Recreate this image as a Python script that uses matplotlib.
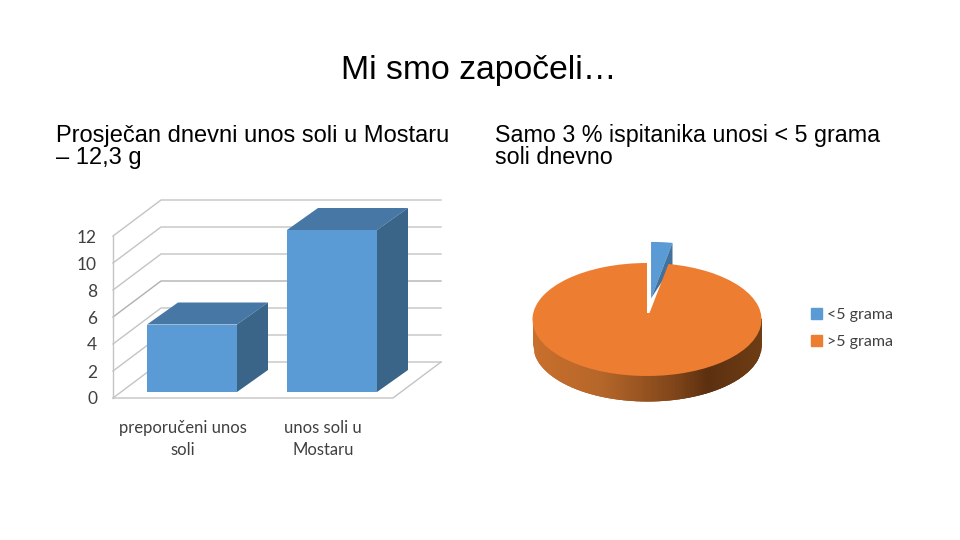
import numpy as np
import matplotlib
matplotlib.use("Agg")
import matplotlib.pyplot as plt
from matplotlib.colors import LinearSegmentedColormap
from matplotlib.patches import Patch

title = "Mi smo započeli…"
left_text = ["Prosječan dnevni unos soli u Mostaru", "– 12,3 g"]
right_text = ["Samo 3 % ispitanika unosi < 5 grama", "soli dnevno"]

bar_categories = ["preporučeni unos\nsoli", "unos soli u\nMostaru"]
bar_values = [5, 12]
y_ticks = [0, 2, 4, 6, 8, 10, 12]

pie_labels = ["<5 grama", ">5 grama"]
pie_values = [3, 97]

W, H = 960, 540
fig = plt.figure(figsize=(W / 100, H / 100), dpi=100, facecolor="white")


def axes_px(x0, y0, x1, y1):
    """Axes from pixel box (y measured from the top of the picture)."""
    return fig.add_axes([x0 / W, 1 - y1 / H, (x1 - x0) / W, (y1 - y0) / H])


# ---------- text ----------
SANS = "Liberation Sans"
fig.text(479 / W, 1 - 79 / H, title, family=SANS, fontsize=24.3, color="black",
         ha="center", va="baseline")
for txt, x, size in ((left_text, 56, 17.0), (right_text, 495, 16.75)):
    for line, y in zip(txt, (142, 164)):
        fig.text(x / W, 1 - y / H, line, family=SANS, fontsize=size, color="black",
                 ha="left", va="baseline")

# ---------- 3D-look column chart ----------
ax = axes_px(113, 236, 393, 398)
ax.set_xlim(-0.5, 1.5)
ax.set_ylim(0, 12)
for s in ax.spines.values():
    s.set_visible(False)
ax.patch.set_alpha(0)

px_x = 2 / 280      # data units per pixel, x
px_y = 12 / 162     # data units per pixel, y
wall_dx, wall_dy = 48 * px_x, 36 * px_y
bar_dx, bar_dy = 31 * px_x, 22 * px_y
lift = 6 * px_y
shift = 9 * px_x
bar_w = 90 * px_x
GRID = "#c4c4c4"
xl, xr = ax.get_xlim()
for v in y_ticks:
    ax.plot([xl, xl + wall_dx, xr + wall_dx],
            [v, v + wall_dy, v + wall_dy],
            color="#b0b0b0" if v == 6 else GRID, lw=1, clip_on=False, zorder=1)
ax.plot([xl, xl], [0, 12], color=GRID, lw=1, clip_on=False, zorder=1)
ax.plot([xl, xr, xr + wall_dx], [0, 0, wall_dy], color=GRID, lw=1, clip_on=False, zorder=1)

xs = np.arange(len(bar_values))
ax.bar(xs + shift, bar_values, width=bar_w, bottom=lift, color="#5b9bd5", zorder=3, clip_on=False)
for x, v in zip(xs + shift, bar_values):
    l, r, t = x - bar_w / 2, x + bar_w / 2, v + lift
    ax.fill([l, r, r + bar_dx, l + bar_dx], [t, t, t + bar_dy, t + bar_dy],
            color="#4677a5", lw=0, zorder=2.9, clip_on=False)
    ax.fill([r, r + bar_dx, r + bar_dx, r], [lift, lift + bar_dy, t + bar_dy, t],
            color="#3b6489", lw=0, zorder=2.9, clip_on=False)

ax.set_yticks(y_ticks)
ax.set_yticklabels([str(v) for v in y_ticks])
ax.set_xticks(xs)
ax.set_xticklabels(bar_categories)
ax.tick_params(axis="both", length=0, labelcolor="#404040")
ax.tick_params(axis="y", pad=11.5, labelsize=12.5)
ax.tick_params(axis="x", pad=16, labelsize=12)
for lab in ax.get_yticklabels() + ax.get_xticklabels():
    lab.set_family("Lato")
for lab in ax.get_xticklabels():
    lab.set_linespacing(1.42)

# ---------- 3D-look pie ----------
cx, cy, rx, ry = 647, 319.5, 114.5, 56.5
pax = axes_px(cx - 1.2 * rx, cy - 1.6 * ry, cx + 1.2 * rx, cy + 1.6 * ry)
depth = 25 / ry
share = pie_values[0] / sum(pie_values)
theta = 2 * np.pi * share
explode_r = 0.375

wedges, _ = pax.pie(pie_values, colors=["#5b9bd5", "#ed7d31"], startangle=90,
                    counterclock=False, explode=[explode_r, 0], radius=1,
                    wedgeprops=dict(linewidth=0))
pax.set_aspect("auto")
pax.set_xlim(-1.2, 1.2)
pax.set_ylim(-1.6, 1.6)
pax.set_axis_off()
wedges[0].set_zorder(2)
wedges[1].set_zorder(4)

# rim of the pie, shaded from left to right
rim = LinearSegmentedColormap.from_list(
    "rim", [(0, "#c96f2c"), (0.30, "#b5662a"), (0.62, "#7f4519"),
            (0.76, "#5c3010"), (1, "#6e3d14")])
edges = np.linspace(-1, 1, 181)
step = edges[1] - edges[0]
for a in edges[:-1]:
    xx = np.array([a, min(a + 2.5 * step, 1.0)])
    pax.fill_between(xx, -np.sqrt(1 - xx ** 2) - depth, 0.02,
                     color=rim((a + 1) / 2), lw=0, zorder=3)

# cut face of the lifted small slice
mid = theta / 2
ox, oy = explode_r * np.sin(mid), explode_r * np.cos(mid)
corner = (ox + np.sin(theta), oy + np.cos(theta))
pax.fill([corner[0], corner[0], ox], [corner[1], corner[1] - depth * 0.9, oy],
         color="#41719c", lw=0, zorder=2.5)

# the large slice's tip sits a little above the centre in the perspective view
tip = 7 / ry
pax.fill([0, 0, tip * np.tan(theta)], [0, tip, tip], color="#ed7d31", lw=0, zorder=5)

leg = fig.legend(handles=[Patch(color=c, label=l) for c, l in
                          zip(["#5b9bd5", "#ed7d31"], pie_labels)],
                 loc="upper left", bbox_to_anchor=(806 / W, 1 - 303 / H),
                 frameon=False, prop=dict(family="Lato", size=11.5),
                 labelcolor="#404040", handlelength=0.7, handleheight=0.7,
                 handletextpad=0.3, labelspacing=0.82, borderaxespad=0, borderpad=0.3)

fig.savefig("out.png", dpi=100, facecolor="white")
